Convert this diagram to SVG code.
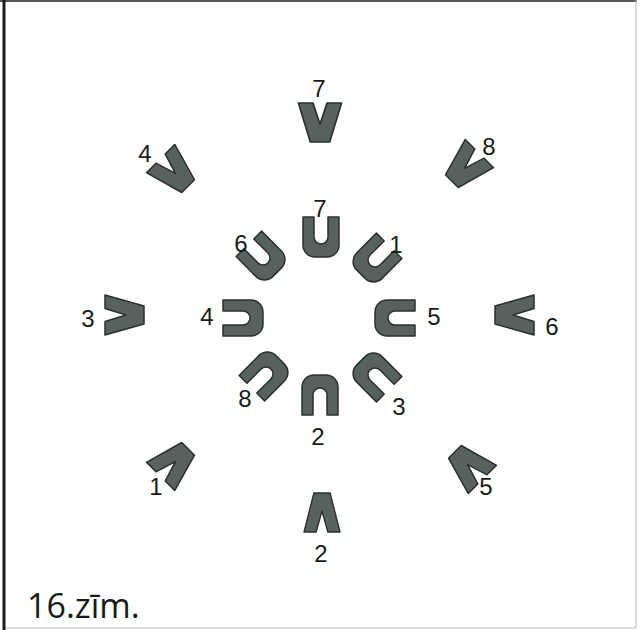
<svg xmlns="http://www.w3.org/2000/svg" width="644" height="630" viewBox="0 0 644 630">
<style>
.sh{fill:#57625f;stroke:#2b302f;stroke-width:1.5;stroke-linejoin:round}
.lb{font-family:"Liberation Sans",Arial,sans-serif;font-size:24px;fill:#1a1a1a;text-anchor:middle}
.cap{font-family:"Open Sans","Liberation Sans",sans-serif;font-size:34px;fill:#1a1a1a}
</style>
<defs>
<polygon id="v" points="-20,-19 -6.5,-19 0,2 6.5,-19 20,-19 9,20 -9,20"/>
<path id="u" d="M-18,-20 V8 A12,12 0 0 0 -6,20 H6 A12,12 0 0 0 18,8 V-20 H7 V0 A7,7 0 0 1 -7,0 V-20 Z"/>
</defs>
<rect x="0" y="0" width="644" height="630" fill="#ffffff"/>
<g id="frame" fill="none">
<line x1="0" y1="1" x2="637" y2="1" stroke="#555" stroke-width="2"/>
<line x1="636" y1="0" x2="636" y2="628" stroke="#bbb" stroke-width="1"/>
<line x1="4" y1="628" x2="636" y2="628" stroke="#bbb" stroke-width="1"/>
<line x1="4" y1="0" x2="4" y2="630" stroke="#1a1a2a" stroke-width="3"/>
</g>
<g id="outer">
<g id="v7"><use href="#v" class="sh" transform="translate(320,122) scale(1.08,1)"/><text class="lb" x="319" y="97">7</text></g>
<g id="v8"><use href="#v" class="sh" transform="translate(466,167) rotate(45)"/><text class="lb" x="489" y="155">8</text></g>
<g id="v6"><use href="#v" class="sh" transform="translate(515,315) rotate(90)"/><text class="lb" x="552" y="335">6</text></g>
<g id="v5"><use href="#v" class="sh" transform="translate(469,466) rotate(135)"/><text class="lb" x="486" y="495">5</text></g>
<g id="v2"><use href="#v" class="sh" transform="translate(322,513) rotate(180) scale(0.9,1)"/><text class="lb" x="321" y="562">2</text></g>
<g id="v1"><use href="#v" class="sh" transform="translate(174,463) rotate(-135)"/><text class="lb" x="156" y="495">1</text></g>
<g id="v3"><use href="#v" class="sh" transform="translate(124,315) rotate(-90)"/><text class="lb" x="88" y="327">3</text></g>
<g id="v4"><use href="#v" class="sh" transform="translate(174,172) rotate(-45)"/><text class="lb" x="145" y="162">4</text></g>
</g>
<g id="inner">
<g id="u7"><use href="#u" class="sh" transform="translate(321,237)"/><text class="lb" x="320" y="217">7</text></g>
<g id="u1"><use href="#u" class="sh" transform="translate(375,260) rotate(45)"/><text class="lb" x="396" y="253">1</text></g>
<g id="u5"><use href="#u" class="sh" transform="translate(395,318) rotate(90)"/><text class="lb" x="434" y="325">5</text></g>
<g id="u3"><use href="#u" class="sh" transform="translate(375,375) rotate(135)"/><text class="lb" x="399" y="415">3</text></g>
<g id="u2"><use href="#u" class="sh" transform="translate(320,395) rotate(180)"/><text class="lb" x="318" y="445">2</text></g>
<g id="u8"><use href="#u" class="sh" transform="translate(266,374) rotate(-135)"/><text class="lb" x="245" y="407">8</text></g>
<g id="u4"><use href="#u" class="sh" transform="translate(243,318) rotate(-90)"/><text class="lb" x="207" y="325">4</text></g>
<g id="u6"><use href="#u" class="sh" transform="translate(263,258) rotate(-45)"/><text class="lb" x="241" y="252">6</text></g>
</g>
<text class="cap" x="27" y="618">16.zīm.</text>
</svg>
